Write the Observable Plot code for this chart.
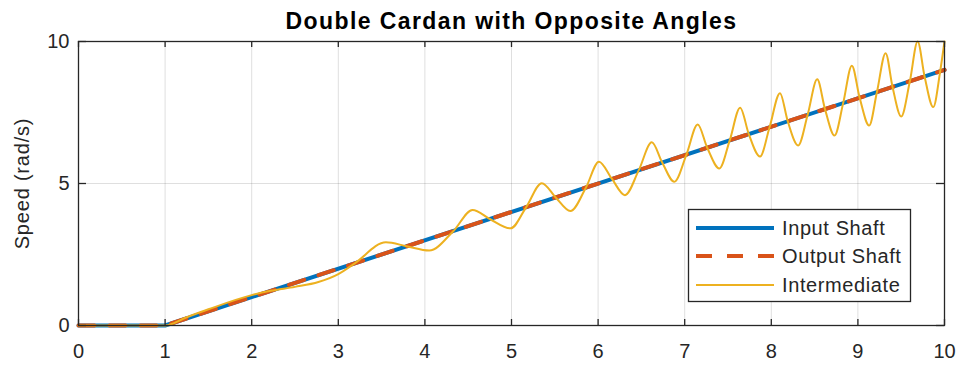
<!DOCTYPE html>
<html>
<head>
<meta charset="utf-8">
<script src="https://cdn.jsdelivr.net/npm/d3@7"></script>
<script src="https://cdn.jsdelivr.net/npm/@observablehq/plot@0.6"></script>
<style>
  html, body { margin: 0; padding: 0; background: #fff; }
  #wrap { position: relative; width: 961px; height: 366px; }
  #legend { position: absolute; left: 688px; top: 209px; }
  .chart-title text { letter-spacing: 1.4px; }
</style>
</head>
<body>
<div id="wrap"><div id="chart"></div><div id="legend"></div></div>
<script>
// ---- data ----
const chartTitle = "Double Cardan with Opposite Angles";
const yLabel = "Speed (rad/s)";
const xTicks = [0, 1, 2, 3, 4, 5, 6, 7, 8, 9, 10];
const yTicks = [0, 5, 10];
const seriesNames = ["Input Shaft", "Output Shaft", "Intermediate"];

const inputTime = [0, 1, 10];
const inputSpeed = [0, 0, 9];

const outputTime = [0, 1, 10];
const outputSpeed = [0, 0, 9];

const intermediateTime = [
  0, 1, 1.25, 1.5, 2.0, 2.22, 2.5, 2.77, 3.0, 3.19, 3.55, 3.79, 4.05, 4.33, 4.55, 4.75, 4.99,
  5.17, 5.35, 5.51, 5.68, 5.86, 6.01, 6.16, 6.31, 6.47, 6.62, 6.74, 6.88, 7.02, 7.15, 7.26,
  7.40, 7.52, 7.64, 7.74, 7.87, 7.98, 8.10, 8.19, 8.31, 8.42, 8.53, 8.62, 8.73, 8.83, 8.93,
  9.02, 9.13, 9.22, 9.32, 9.40, 9.50, 9.60, 9.69, 9.77, 9.87, 9.95, 10
];
const intermediateSpeed = [
  0, 0, 0.29, 0.57, 1.07, 1.22, 1.36, 1.53, 1.81, 2.19, 2.93, 2.79, 2.64, 3.33, 4.07, 3.75, 3.42,
  4.17, 5.01, 4.51, 4.03, 4.86, 5.77, 5.16, 4.59, 5.47, 6.45, 5.74, 5.06, 6.02, 7.08, 6.26,
  5.53, 6.52, 7.67, 6.74, 5.95, 6.98, 8.18, 7.19, 6.34, 7.42, 8.67, 7.62, 6.69, 7.83, 9.15,
  8.02, 7.04, 8.22, 9.59, 8.40, 7.36, 8.60, 10.0, 8.77, 7.69, 8.95, 10.0
];

const colors = ["#0072BD", "#D95319", "#EDB120"];

// ---- tables built from the arrays ----
const inputRows = inputTime.map((t, i) => ({t, v: inputSpeed[i]}));
const outputRows = outputTime.map((t, i) => ({t, v: outputSpeed[i]}));
const interRows = intermediateTime.map((t, i) => ({t, v: intermediateSpeed[i]}));

const W = 961, H = 366, mL = 78, mR = 17, mT = 41, mB = 41;
const frameW = W - mL - mR, frameH = H - mT - mB;
const axisColor = "#262626";

const chart = Plot.plot({
  width: W, height: H,
  marginLeft: mL, marginRight: mR, marginTop: mT, marginBottom: mB,
  x: {domain: [0, 10]},
  y: {domain: [0, 10]},
  style: {fontFamily: "'Liberation Sans', Arial, Helvetica, sans-serif", fontSize: "20px", color: axisColor, background: "#fff", overflow: "visible"},
  marks: [
    Plot.gridX(xTicks, {stroke: axisColor, strokeOpacity: 0.15, strokeWidth: 1}),
    Plot.gridY(yTicks, {stroke: axisColor, strokeOpacity: 0.15, strokeWidth: 1}),
    Plot.line(inputRows, {x: "t", y: "v", stroke: colors[0], strokeWidth: 4}),
    Plot.line(outputRows, {x: "t", y: "v", stroke: colors[1], strokeWidth: 4, strokeDasharray: "16,15"}),
    Plot.line(interRows, {x: "t", y: "v", stroke: colors[2], strokeWidth: 2, curve: "monotone-x"}),
    Plot.frame({stroke: axisColor, strokeWidth: 1.3}),
    Plot.tickX(xTicks, {x: d => d, insetTop: frameH - 6, stroke: axisColor, strokeWidth: 1.3}),
    Plot.tickX(xTicks, {x: d => d, insetBottom: frameH - 6, stroke: axisColor, strokeWidth: 1.3}),
    Plot.tickY(yTicks, {y: d => d, insetLeft: frameW - 8, stroke: axisColor, strokeWidth: 1.3}),
    Plot.tickY(yTicks, {y: d => d, insetRight: frameW - 8, stroke: axisColor, strokeWidth: 1.3}),
    Plot.axisX(xTicks, {tickSize: 0, tickPadding: 18, label: null, fontSize: 20}),
    Plot.axisY(yTicks, {tickSize: 0, tickPadding: 9, label: yLabel, labelAnchor: "center", labelArrow: "none", labelOffset: 64, fontSize: 20}),
    Plot.text([chartTitle], {frameAnchor: "top", dy: -13, lineAnchor: "bottom", fontWeight: "bold", fontSize: 23, fill: "#000", className: "chart-title"})
  ]
});
document.getElementById("chart").appendChild(chart);
d3.select(chart).selectAll("text").filter(function () { return this.textContent === yLabel; })
  .attr("letter-spacing", "0.8px");

// ---- legend (MATLAB-style box) ----
const lg = d3.select("#legend").append("svg").attr("width", 224).attr("height", 95)
  .style("font-family", "'Liberation Sans', Arial, Helvetica, sans-serif").style("overflow", "visible");
lg.append("rect").attr("x", 0.5).attr("y", 0.5).attr("width", 222).attr("height", 92)
  .attr("fill", "#fff").attr("stroke", axisColor).attr("stroke-width", 1.3);
const rowY = [19, 47, 76];
const widths = [4, 4, 2];
const dashes = [null, "16,15", null];
seriesNames.forEach((name, i) => {
  const ln = lg.append("line").attr("x1", 8).attr("x2", 86).attr("y1", rowY[i]).attr("y2", rowY[i])
    .attr("stroke", colors[i]).attr("stroke-width", widths[i]);
  if (dashes[i]) ln.attr("stroke-dasharray", dashes[i]);
  lg.append("text").attr("x", 94).attr("y", rowY[i]).attr("dy", "0.35em")
    .attr("font-size", 20).attr("letter-spacing", "0.6px").attr("fill", axisColor).text(name);
});
</script>
</body>
</html>
